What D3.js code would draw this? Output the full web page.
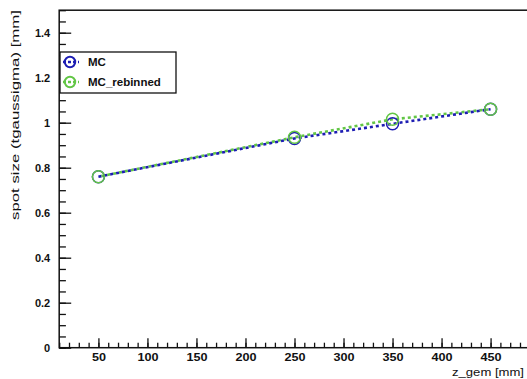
<!DOCTYPE html>
<html>
<head>
<meta charset="utf-8">
<script src="https://cdn.jsdelivr.net/npm/d3@7"></script>
<style>
  body { margin: 0; background: #fff; }
  svg text { font-family: "Liberation Sans", Arial, Helvetica, sans-serif; fill: #111; }
</style>
</head>
<body>
<script>
// data
var zGem = [50, 250, 350, 450];
var mcValues = [0.76, 0.93, 0.995, 1.06];
var mcRebinnedValues = [0.76, 0.935, 1.015, 1.06];
var seriesNames = ["MC", "MC_rebinned"];
var xTickValues = [50, 100, 150, 200, 250, 300, 350, 400, 450];
var yTickValues = [0, 0.2, 0.4, 0.6, 0.8, 1, 1.2, 1.4];
var yTickLabels = ["0", "0.2", "0.4", "0.6", "0.8", "1", "1.2", "1.4"];

var width = 527, height = 379;
var blue = "#1d1db3", green = "#62c645";

var svg = d3.select("body").append("svg")
    .attr("width", width)
    .attr("height", height)

var x = d3.scaleLinear().domain([10, 490]).range([59.2, 529.8]);
var y = d3.scaleLinear().domain([0, 1.5]).range([347.7, 10.2]);

// frame
svg.append("rect")
    .attr("x", x(10)).attr("y", y(1.5))
    .attr("width", x(490) - x(10)).attr("height", y(0) - y(1.5))
    .attr("fill", "none").attr("stroke", "#111").attr("stroke-width", 1.5)

// x axis: minor then major, ticks point inside
svg.append("g")
    .attr("transform", "translate(0," + y(0) + ")")
    .call(d3.axisBottom(x).tickValues(d3.range(10, 491, 10)).tickSizeInner(-5).tickSizeOuter(0).tickFormat(""))
    .call(function(g) { g.select(".domain").remove() })
    .selectAll("line").attr("stroke", "#111").attr("stroke-width", 1.3)

var xAxis = svg.append("g")
    .attr("transform", "translate(0," + y(0) + ")")
    .call(d3.axisBottom(x).tickValues(xTickValues).tickSizeInner(-9.5).tickSizeOuter(0).tickPadding(5))
xAxis.select(".domain").remove()
xAxis.selectAll("line").attr("stroke", "#111").attr("stroke-width", 1.3)
xAxis.selectAll("text")
    .attr("font-size", 11).attr("font-weight", "bold").attr("fill", "#222")
    .attr("transform", "scale(1.15,1)")

// y axis
svg.append("g")
    .attr("transform", "translate(" + x(10) + ",0)")
    .call(d3.axisLeft(y).tickValues(d3.range(0, 1.501, 0.05)).tickSizeInner(-6.7).tickSizeOuter(0).tickFormat(""))
    .call(function(g) { g.select(".domain").remove() })
    .selectAll("line").attr("stroke", "#111").attr("stroke-width", 1.3)

var yAxis = svg.append("g")
    .attr("transform", "translate(" + x(10) + ",0)")
    .call(d3.axisLeft(y).tickValues(yTickValues).tickSizeInner(-12).tickSizeOuter(0).tickPadding(9)
      .tickFormat(function(d, i) { return yTickLabels[i] }))
yAxis.select(".domain").remove()
yAxis.selectAll("line").attr("stroke", "#111").attr("stroke-width", 1.3)
yAxis.selectAll("text")
    .attr("font-size", 11).attr("font-weight", "bold").attr("fill", "#222")

// axis titles
svg.append("text")
    .attr("x", 524).attr("y", 376)
    .attr("text-anchor", "end")
    .attr("font-size", 11.5)
    .attr("textLength", 72).attr("lengthAdjust", "spacingAndGlyphs")
    .text("z_gem [mm]")

svg.append("text")
    .attr("transform", "translate(19,10) rotate(-90)")
    .attr("text-anchor", "end")
    .attr("font-size", 11.5)
    .attr("textLength", 210).attr("lengthAdjust", "spacingAndGlyphs")
    .text("spot size (tgaussigma) [mm]")

// series: lines (green under blue), then markers (green on top)
var line = d3.line()
    .x(function(d) { return x(d[0]) })
    .y(function(d) { return y(d[1]) })

var mcPts = zGem.map(function(z, i) { return [z, mcValues[i]] })
var rebPts = zGem.map(function(z, i) { return [z, mcRebinnedValues[i]] })

function drawLine(pts, color, offset) {
  svg.append("path")
      .datum(pts)
      .attr("d", line)
      .attr("fill", "none")
      .attr("stroke", color)
      .attr("stroke-width", 2.6)
      .attr("stroke-dasharray", "3,3")
      .attr("stroke-dashoffset", offset)
}
function drawMarkers(pts, color) {
  svg.append("g").selectAll("circle")
      .data(pts)
      .enter().append("circle")
      .attr("cx", function(d) { return x(d[0]) })
      .attr("cy", function(d) { return y(d[1]) })
      .attr("r", 6)
      .attr("fill", "none")
      .attr("stroke", color)
      .attr("stroke-width", 1.5)
}
drawLine(rebPts, green, 3)
drawLine(mcPts, blue, 0)
drawMarkers(mcPts, blue)
drawMarkers(rebPts, green)

// legend
var legend = svg.append("g")
legend.append("rect")
    .attr("x", 60).attr("y", 52).attr("width", 116).attr("height", 41)
    .attr("fill", "#fff").attr("stroke", "#111").attr("stroke-width", 1.3)

var legendItems = [
  { name: seriesNames[0], color: blue, cy: 62 },
  { name: seriesNames[1], color: green, cy: 82 }
]
legendItems.forEach(function(it) {
  legend.append("line")
      .attr("x1", 63).attr("x2", 79).attr("y1", it.cy).attr("y2", it.cy)
      .attr("stroke", it.color).attr("stroke-width", 2.6).attr("stroke-dasharray", "3,2")
  legend.append("circle")
      .attr("cx", 70).attr("cy", it.cy).attr("r", 5.2)
      .attr("fill", "none").attr("stroke", it.color).attr("stroke-width", 2)
  legend.append("text")
      .attr("x", 88).attr("y", it.cy + 4.3)
      .attr("font-size", 11.5).attr("font-weight", "bold").attr("fill", "#222")
      .text(it.name)
})
</script>
</body>
</html>
